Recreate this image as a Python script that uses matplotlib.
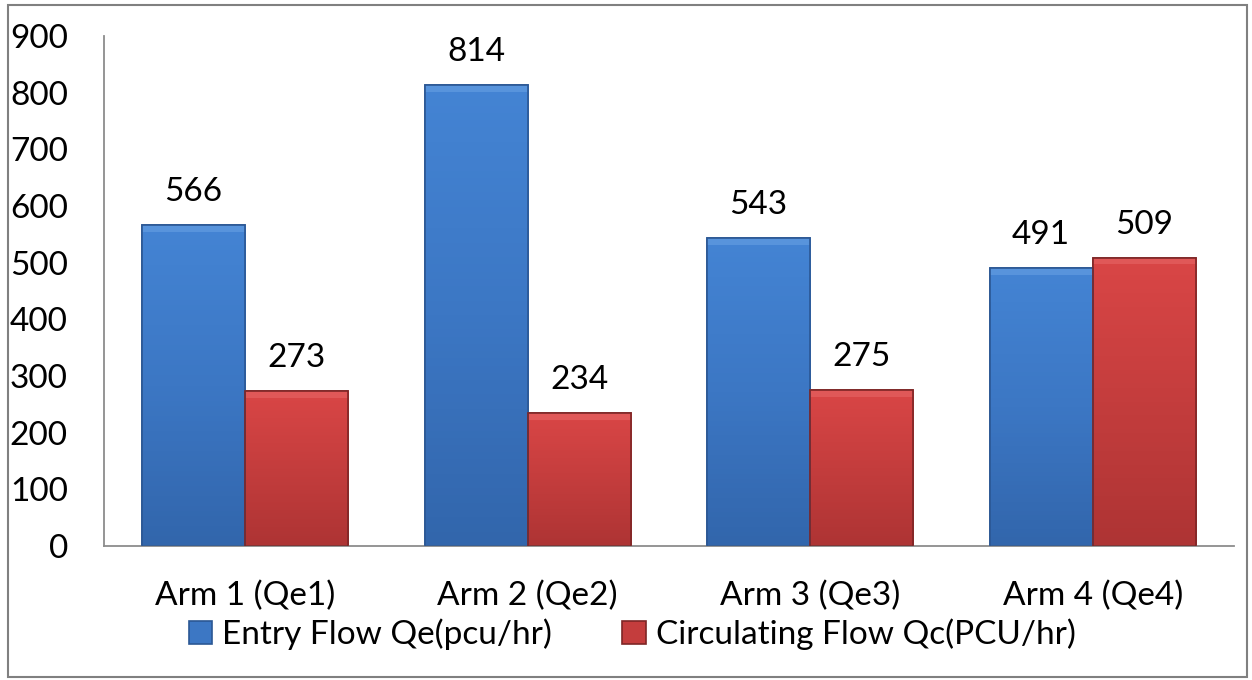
import numpy as np
import matplotlib.pyplot as plt
from matplotlib.patches import Rectangle
from matplotlib.colors import LinearSegmentedColormap

# donnees
categories = ["Arm 1 (Qe1)", "Arm 2 (Qe2)", "Arm 3 (Qe3)", "Arm 4 (Qe4)"]
entry_flow = [566, 814, 543, 491]
circ_flow = [273, 234, 275, 509]
series_names = ["Entry Flow Qe(pcu/hr)", "Circulating Flow Qc(PCU/hr)"]

plt.rcParams['font.family'] = ['Lato', 'DejaVu Sans']

fig = plt.figure(figsize=(12.52, 6.8), dpi=100)
ax = fig.add_axes([0.083, 0.197, 0.9026, 0.75])

x = np.arange(len(categories))
w = 0.365

# degrade vertical : bas sombre -> haut clair
blue_cmap = LinearSegmentedColormap.from_list("b", ["#3266AC", "#3C77C4", "#4484D4"])
red_cmap = LinearSegmentedColormap.from_list("r", ["#AE3434", "#C43D3D", "#D94646"])

def draw_bars(xpos, vals, color, edge, top, cmap):
    bars = ax.bar(xpos, vals, w, color=color, edgecolor=edge, linewidth=1.2, zorder=2)
    grad = np.linspace(0, 1, 64).reshape(-1, 1)
    for b in bars:
        x0, y0 = b.get_x(), b.get_y()
        im = ax.imshow(grad, cmap=cmap, aspect='auto', zorder=2.5, origin='lower',
                       extent=(x0, x0 + b.get_width(), y0, y0 + b.get_height()))
        im.set_clip_path(b)
        # bordure haute plus claire (effet biseau)
        ax.add_patch(Rectangle((x0, b.get_height() - 12), b.get_width(), 12,
                               facecolor=top, alpha=0.85, edgecolor='none', zorder=3))
        ax.add_patch(Rectangle((x0, 0), b.get_width(), b.get_height(), fill=False,
                               edgecolor=edge, linewidth=1.2, zorder=3.5))
    for b, v in zip(bars, vals):
        ax.annotate(str(v), (b.get_x() + b.get_width() / 2, v), xytext=(0, 13),
                    textcoords='offset points', ha='center', va='bottom', fontsize=24)
    return bars

b1 = draw_bars(x - w / 2, entry_flow, "#3C77C4", "#2B5794", "#5C98DE", blue_cmap)
b2 = draw_bars(x + w / 2, circ_flow, "#C43D3D", "#7E2626", "#E25C5C", red_cmap)

ax.set_xlim(-0.5, len(categories) - 0.5)
ax.set_ylim(0, 900)
ax.set_yticks(range(0, 901, 100))
ax.set_xticks(x)
ax.set_xticklabels(categories, fontsize=24)
ax.tick_params(axis='y', length=0, pad=26, labelsize=24)
ax.tick_params(axis='x', length=0, pad=25)

for s in ['top', 'right']:
    ax.spines[s].set_visible(False)
ax.spines['left'].set_color('#8C8C8C')
ax.spines['bottom'].set_color('#8C8C8C')
ax.spines['left'].set_linewidth(1.3)
ax.spines['bottom'].set_linewidth(1.3)

fig.legend([b1, b2], series_names, loc='center', bbox_to_anchor=(0.505, 0.067),
           ncol=2, frameon=False, fontsize=24, handlelength=0.7, handleheight=0.7,
           handletextpad=0.3, columnspacing=2.1)

# cadre autour de la figure
fig.patches.append(Rectangle((0.006, 0.004), 0.99, 0.988, transform=fig.transFigure,
                             fill=False, edgecolor='#808080', linewidth=1.5))

fig.savefig("out.png", dpi=100)
